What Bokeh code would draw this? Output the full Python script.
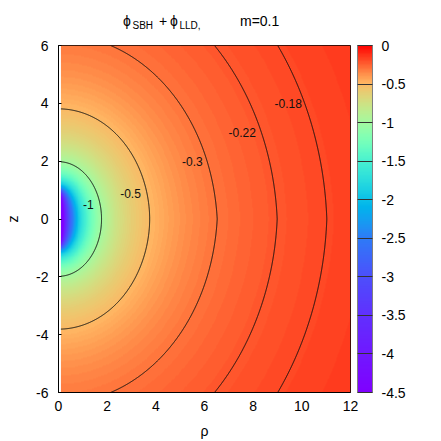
import numpy as np
from bokeh.plotting import figure
from bokeh.layouts import column
from bokeh.models import (LinearColorMapper, ColorBar, FixedTicker,
                          CustomJSTickFormatter, AllLabels, Div)
from bokeh.core.properties import value
from bokeh.embed import file_html
from bokeh.resources import INLINE

# ---- values ----
M_BH = 0.9          # black-hole (rod) mass
m_LLD = 0.1         # disc mass (title: m=0.1)
b_LLD = 4.0         # inner edge of the Lemos-Letelier disc

rho_lo, rho_hi = 0.1, 12.0
z_lo, z_hi = -6.0, 6.0

levels = [-1.0, -0.5, -0.3, -0.22, -0.18]
level_text = ["-1", "-0.5", "-0.3", "-0.22", "-0.18"]
level_rho = [1.23, 2.96, 5.50, 7.55, 9.44]
level_z = [0.50, 0.88, 2.00, 3.00, 3.98]

x_ticks = [0, 2, 4, 6, 8, 10, 12]
y_ticks = [-6, -4, -2, 0, 2, 4, 6]
cb_ticks = [0, -0.5, -1, -1.5, -2, -2.5, -3, -3.5, -4, -4.5]
cb_low, cb_high = -4.5, 0.0

# title pieces: main text and subscripts (left edge in px)
title_main = ["ϕ", "+", "ϕ", "m=0.1"]
title_main_x = [123, 159, 170, 240]
title_sub = ["SBH", "LLD,"]
title_sub_x = [132.5, 179.5]

# colour scale: value -> position on the rainbow palette
pal_v = [-4.5, -4.0, -3.5, -3.0, -2.5, -2.0, -1.5, -1.0, -0.5, -0.3, -0.18, 0.0]
pal_x = [0.0, 0.03, 0.06, 0.10, 0.16, 0.27, 0.39, 0.57, 0.74, 0.85, 0.91, 1.0]

FONT = "Liberation Sans"


def rainbow(x):
    r = min(1.0, abs(2 * x - 0.5))
    g = max(0.0, np.sin(np.pi * x))
    b = max(0.0, np.cos(np.pi * x / 2))
    return "#%02x%02x%02x" % (int(round(r * 255)), int(round(g * 255)), int(round(b * 255)))


vk = cb_low + (cb_high - cb_low) * (np.arange(256) + 0.5) / 256
palette = [rainbow(float(np.interp(v, pal_v, pal_x))) for v in vk]


def phi_sbh(rho, z, M):
    rp = np.hypot(rho, z + M)
    rm = np.hypot(rho, z - M)
    s = rp + rm
    return np.log((s - 2 * M) / (s + 2 * M))


def phi_lld(rho, z, m, b):
    r2 = rho ** 2 + z ** 2
    r = np.sqrt(r2)
    R = b * rho / r2
    Z = b * z / r2
    q = R ** 2 + Z ** 2 - 1
    disc = np.sqrt(q ** 2 + 4 * Z ** 2)
    u2 = np.empty_like(q)
    pos = q >= 0
    u2[pos] = 0.5 * (q[pos] + disc[pos])
    neg = ~pos
    u2[neg] = 2 * Z[neg] ** 2 / (disc[neg] - q[neg])
    u = np.sqrt(u2)
    v2 = np.clip(1 - R ** 2 / (1 + u2), 0, 1)
    acot = np.arctan2(1.0, u)
    A = 0.5 * ((3 * u2 + 1) * acot - 3 * u)
    P2 = 0.5 * (3 * v2 - 1)
    return 2 * (-(4 * m / (3 * np.pi * r)) * (acot + A * P2))


rho = np.linspace(rho_lo, rho_hi, 596)
zz = np.linspace(z_lo, z_hi, 601)
RR, ZZ = np.meshgrid(rho, zz)
phi = phi_sbh(RR, ZZ, M_BH) + phi_lld(RR, ZZ, m_LLD, b_LLD)

# ---- title strip as HTML (real text with subscripts) ----
TH = 30
spans = []
for txt, lx in zip(title_main, title_main_x):
    spans.append('<span style="position:absolute;left:%.1fpx;top:14.1px;'
                 'font-size:14px;line-height:14px;white-space:nowrap;">%s</span>' % (lx, txt))
for txt, lx in zip(title_sub, title_sub_x):
    spans.append('<span style="position:absolute;left:%.1fpx;top:21px;'
                 'font-size:10px;line-height:10px;white-space:nowrap;">%s</span>' % (lx, txt))
html = ('<div style="position:relative;width:441px;height:%dpx;margin:0;padding:0;'
        'font-family:\'%s\',\'DejaVu Sans\',sans-serif;color:black;">%s</div>'
        % (TH, FONT, "".join(spans)))
t = Div(text=html, width=441, height=TH, margin=0)

# ---- main figure ----
p = figure(width=441, height=441 - TH, x_range=(0, 12), y_range=(-6, 6),
           frame_width=292, frame_height=347,
           min_border_left=58, min_border_right=91, min_border_top=45 - TH,
           min_border_bottom=49,
           output_backend="svg", toolbar_location=None)
p.background_fill_color = "white"
p.border_fill_color = "white"
p.grid.visible = False
p.outline_line_color = "black"
p.outline_line_width = 1

mapper = LinearColorMapper(palette=palette, low=cb_low, high=cb_high)
p.image(image=[phi], x=rho_lo, y=z_lo, dw=rho_hi - rho_lo, dh=z_hi - z_lo,
        color_mapper=mapper)

p.contour(x=rho, y=zz, z=phi, levels=levels, line_color="#111111", line_width=1)

p.text(x=level_rho, y=level_z, text=level_text, text_font=value(FONT),
       text_font_size="12px", text_align="center", text_baseline="middle",
       text_color="#111111")

fmt = CustomJSTickFormatter(code="return String(tick);")

p.xaxis.ticker = FixedTicker(ticks=x_ticks)
p.yaxis.ticker = FixedTicker(ticks=y_ticks)
for ax in (p.xaxis[0], p.yaxis[0]):
    ax.formatter = fmt
    ax.major_label_text_font = FONT
    ax.major_label_text_font_size = "14px"
    ax.major_label_text_color = "black"
    ax.axis_line_color = "black"
    ax.minor_tick_line_color = None
    ax.major_tick_line_color = "black"
    ax.major_tick_out = 0
    ax.axis_label_text_font = FONT
    ax.axis_label_text_font_size = "14px"
    ax.axis_label_text_font_style = "normal"
    ax.axis_label_text_color = "black"

p.xaxis.major_tick_in = 0
p.xaxis.major_label_standoff = 8
p.xaxis.axis_label = "ρ"
p.xaxis.axis_label_standoff = 9
p.yaxis.major_tick_in = 3
p.yaxis.major_label_standoff = 10
p.yaxis.axis_label = "z"
p.yaxis.axis_label_standoff = 12

cb = ColorBar(color_mapper=mapper, ticker=FixedTicker(ticks=cb_ticks), formatter=fmt,
              major_label_policy=AllLabels(),
              width=15, height=347, location=(7, 0), padding=0, margin=0,
              major_tick_in=15, major_tick_out=0, major_tick_line_color="#333333",
              minor_tick_line_color=None, bar_line_color="#808080",
              border_line_color=None, background_fill_alpha=0,
              label_standoff=9, major_label_text_font=FONT,
              major_label_text_font_size="14px", major_label_text_color="black")
p.add_layout(cb, "right")

layout = column(t, p, spacing=0)
open("out.html", "w").write(file_html(layout, INLINE))
